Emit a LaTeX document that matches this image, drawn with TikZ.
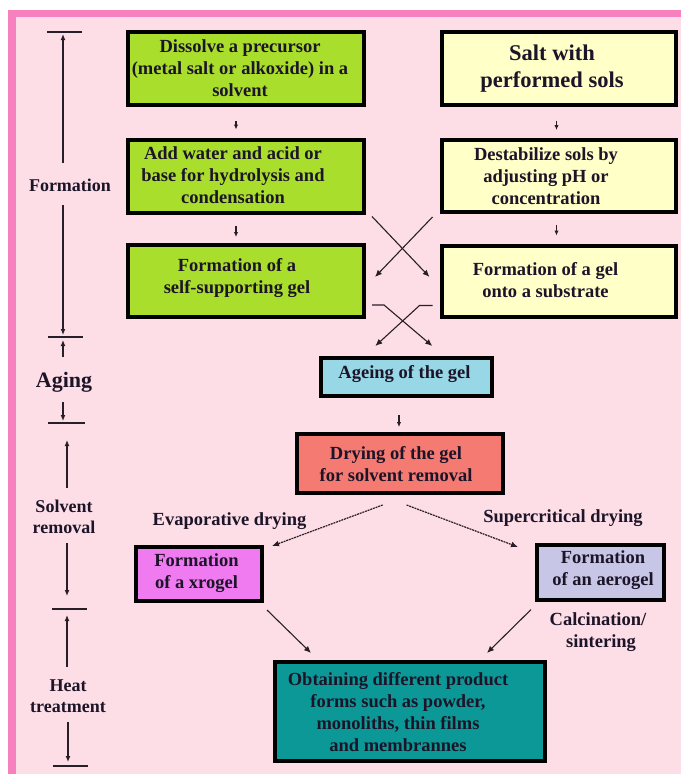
\documentclass[tikz,border=0pt]{standalone}
\usepackage{fontspec}
\setmainfont{Liberation Serif}
\usetikzlibrary{arrows.meta,calc}
\definecolor{bgpink}{RGB}{253,222,230}
\definecolor{framepink}{RGB}{247,128,190}
\definecolor{limeg}{RGB}{170,222,44}
\definecolor{paleyel}{RGB}{255,255,200}
\definecolor{skyb}{RGB}{152,216,230}
\definecolor{salmon}{RGB}{244,122,114}
\definecolor{magen}{RGB}{240,122,240}
\definecolor{lavend}{RGB}{200,198,230}
\definecolor{tealb}{RGB}{12,152,150}
\definecolor{txtc}{RGB}{28,20,40}
\definecolor{linec}{RGB}{40,30,40}
\begin{document}
\begin{tikzpicture}[x=1pt,y=-1pt,
  box/.style={draw=black, line width=4pt, inner sep=0pt},
  txt/.style={font=\bfseries\fontsize{18.5}{22}\selectfont, text=txtc, align=center, inner sep=0pt},
  side/.style={font=\bfseries\fontsize{18}{21}\selectfont, text=txtc, align=center, inner sep=0pt},
  arr/.style={-{Latex[length=7pt,width=6pt]}, line width=1.1pt, draw=linec},
  sarr/.style={-{Latex[length=5pt,width=4.5pt]}, line width=1.1pt, draw=linec},
  tarr/.style={-{Latex[length=6pt,width=5pt]}, line width=1.2pt, draw=linec},
  darr/.style={-{Latex[length=7pt,width=6pt]}, line width=1.2pt, draw=linec, dash pattern=on 2pt off 0.8pt},
  tick/.style={line width=1.3pt, draw=linec}]
% background and frame
\useasboundingbox (0,0) rectangle (681,774);
\fill[white] (0,0) rectangle (681,774);
\fill[framepink] (8,10) rectangle (681,774);
\fill[bgpink] (16,17) rectangle (681,774);

% boxes
\node[box, fill=limeg, minimum width=236pt, minimum height=73pt] (A) at (246,68.5) {};
\node[box, fill=paleyel, minimum width=234.5pt, minimum height=73pt] (B) at (558.75,68) {};
\node[box, fill=limeg, minimum width=236pt, minimum height=73pt] (C) at (246,176) {};
\node[box, fill=paleyel, minimum width=234.5pt, minimum height=72pt] (D) at (558.75,176) {};
\node[box, fill=limeg, minimum width=236pt, minimum height=72pt] (E) at (246,281) {};
\node[box, fill=paleyel, minimum width=234.5pt, minimum height=71pt] (F) at (558.75,281) {};
\node[box, fill=skyb, minimum width=171.4pt, minimum height=38pt] (G) at (406.3,377) {};
\node[box, fill=salmon, minimum width=206pt, minimum height=59pt] (H) at (399.6,463.5) {};
\node[box, fill=magen, minimum width=126.4pt, minimum height=54pt] (X) at (198.8,574) {};
\node[box, fill=lavend, minimum width=126.6pt, minimum height=54.6pt] (Y) at (600.3,572.3) {};
\node[box, fill=tealb, minimum width=269.5pt, minimum height=99pt] (Z) at (409.75,711.5) {};

% box texts
\node[txt] (tA) at (240,68.5) {Dissolve a precursor\\(metal salt or alkoxide) in a\\solvent};
\node[txt, font=\bfseries\fontsize{22.5}{27}\selectfont] (tB) at (552,68.5) {Salt with\\performed sols};
\node[txt] (tC) at (233,175) {Add water and acid or\\base for hydrolysis and\\condensation};
\node[txt] (tD) at (546,176) {Destabilize sols by\\adjusting pH or\\concentration};
\node[txt] (tE) at (237,278) {Formation of a\\self-supporting gel};
\node[txt] (tF) at (545.5,280) {Formation of a gel\\onto a substrate};
\node[txt] (tG) at (404.5,374) {Ageing of the gel};
\node[txt] (tH) at (396,464) {Drying of the gel\\for solvent removal};
\node[txt] (tX) at (196.5,573.5) {Formation\\of a xrogel};
\node[txt] (tY) at (603,570.5) {Formation\\of an aerogel};
\node[txt] (tZ) at (398,712) {Obtaining different product\\forms such as powder,\\monoliths, thin films\\and membrannes};

% edge labels
\node[txt] (lE) at (229.5,521) {Evaporative drying};
\node[txt] (lS) at (563,518) {Supercritical drying};
\node[txt] (lC) at (598,632) {Calcination/\\\hspace*{6pt}sintering};

% vertical small arrows
\draw[sarr, shorten <=14pt, shorten >=8pt] ([xshift=-10pt]A.south) -- ([xshift=-10pt]C.north);
\draw[sarr, shorten <=14pt, shorten >=8pt] ([xshift=-2.25pt]B.south) -- ([xshift=-2.25pt]D.north);
\draw[sarr, shorten <=11pt, shorten >=6pt] ([xshift=-10pt]C.south) -- ([xshift=-10pt]E.north);
\draw[sarr, shorten <=11pt, shorten >=8pt] ([xshift=-2.25pt]D.south) -- ([xshift=-2.25pt]F.north);
\draw[sarr, shorten <=17pt, shorten >=5pt] ([xshift=-7.3pt]G.south) -- ([xshift=-0.6pt]H.north);

% crossing arrows (upper)
\draw[arr] ([shift={(6,2)}]C.south east) -- ([shift={(-10,-4)}]F.west);
\draw[arr] ([shift={(-7,3)}]D.south west) -- ([shift={(9,-4)}]E.east);
% crossing arrows (lower)
\draw[arr] ([shift={(6,-14)}]E.south east) -- ++(12,0) -- ([shift={(26,-10)}]G.north);
\draw[arr] ([shift={(-7,-13)}]F.south west) -- ++(-13,0) -- ([shift={(-31,-10)}]G.north);

% drying arrows
\draw[darr] ([shift={(-17,10)}]H.south) -- ([shift={(8,1)}]X.north east);
\draw[darr] ([shift={(7,10)}]H.south) -- ([shift={(-17,4)}]Y.north west);

% to final
\draw[arr] ([shift={(3,7)}]X.south east) -- ([shift={(38,-7)}]Z.north west);
\draw[arr] ([shift={(-4,8)}]Y.south west) -- ([shift={(-59.5,-7)}]Z.north east);

% left timeline
\coordinate (t1) at (63,32);
\coordinate (t2) at (63,337);
\coordinate (t3) at (63,423);
\coordinate (t4) at (67,609);
\coordinate (t5) at (68,766);
\draw[tick] (47,32) -- (82,32);
\draw[tick] (48,337) -- (83,337);
\draw[tick] (48,423) -- (85,423);
\draw[tick] (52,609) -- (87,609);
\draw[tick] (53,766) -- (88,766);

\node[side] (sF) at (70,185) {Formation};
\node[side, font=\bfseries\fontsize{22}{26}\selectfont] (sA) at (64,382) {Aging};
\node[side] (sS) at (64,517) {Solvent\\removal};
\node[side] (sH) at (68,696) {Heat\\treatment};

\draw[tarr] (63,163) -- ($(t1)+(0,2)$);
\draw[tarr] (63,205) -- ($(t2)+(0,-2)$);
\draw[tarr] (63,357) -- ($(t2)+(0,3)$);
\draw[tarr] (63,402) -- ($(t3)+(0,-2)$);
\draw[tarr] (67,488) -- ($(t3)+(4,17)$);
\draw[tarr] (67,543) -- ($(t4)+(0,-13)$);
\draw[tarr] (67,667) -- ($(t4)+(0,6)$);
\draw[tarr] (68,722) -- ($(t5)+(0,-4)$);
\end{tikzpicture}
\end{document}
